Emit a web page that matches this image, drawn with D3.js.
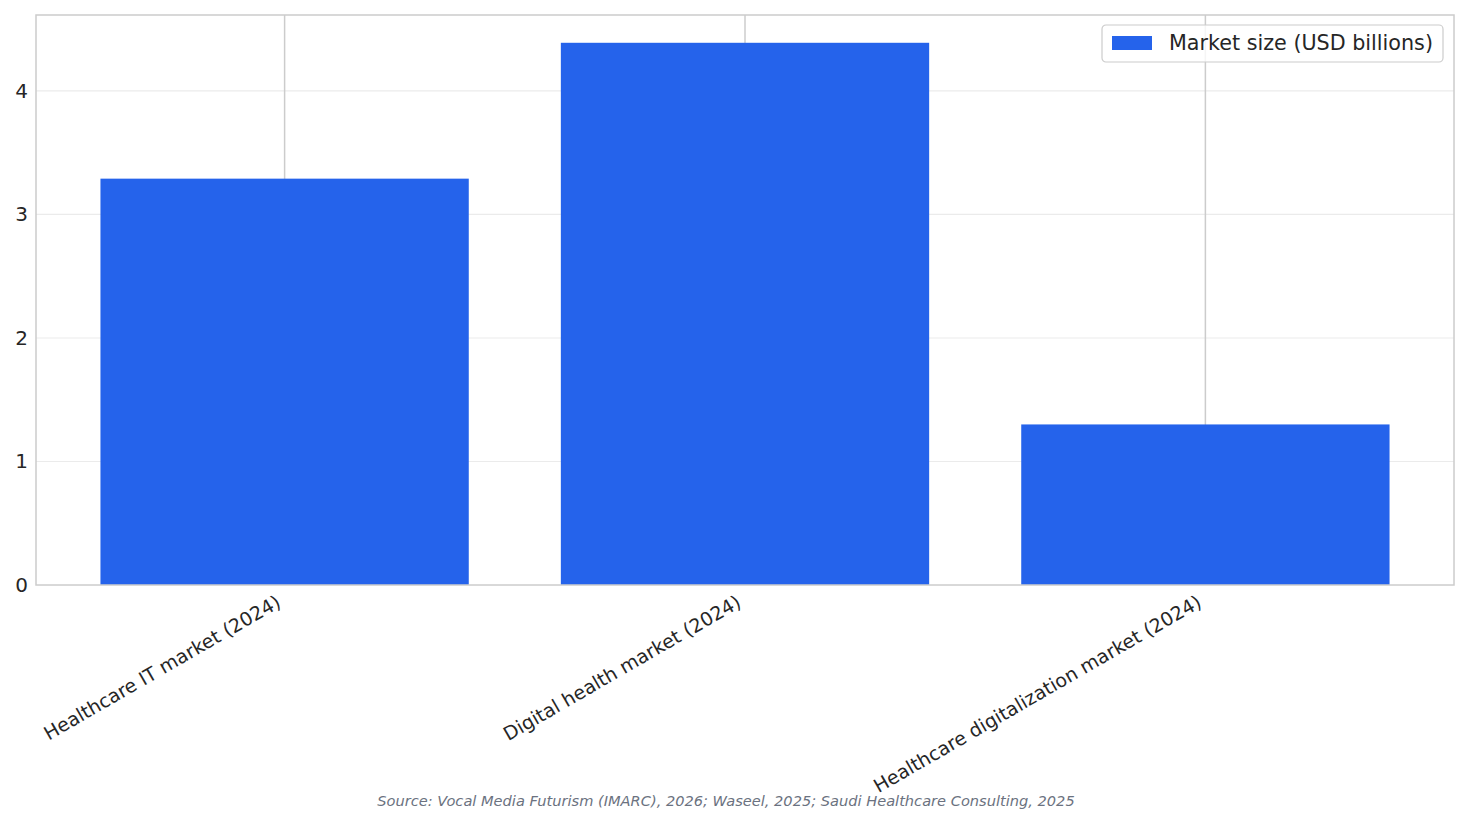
<!DOCTYPE html>
<html>
<head>
<meta charset="utf-8">
<script src="https://cdn.jsdelivr.net/npm/d3@7"></script>
<style>
  body { margin: 0; background: #fff; }
  svg { display: block; font-family: "DejaVu Sans", sans-serif; }
</style>
</head>
<body>
<div id="chart"></div>
<script>
const categories = ["Healthcare IT market (2024)", "Digital health market (2024)", "Healthcare digitalization market (2024)"];
const marketSize = [3.29, 4.39, 1.3];
const yTicks = [0, 1, 2, 3, 4];
const seriesName = "Market size (USD billions)";
const sourceNote = "Source: Vocal Media Futurism (IMARC), 2026; Waseel, 2025; Saudi Healthcare Consulting, 2025";

const W = 1468, H = 824;
const margin = { top: 15, right: 14, bottom: 239, left: 36 };
const width = W - margin.left - margin.right, height = H - margin.top - margin.bottom;

const svg = d3.select("#chart").append("svg").attr("width", W).attr("height", H);
const g = svg.append("g").attr("transform", `translate(${margin.left},${margin.top})`);

// matplotlib-like: bars 0.8 wide, 5% margins on x
const x = d3.scaleLinear().domain([-0.54, categories.length - 1 + 0.54]).range([0, width]);
const y = d3.scaleLinear().domain([0, 4.615]).range([height, 0]);
const barW = x(0.4) - x(-0.4);

// horizontal grid
g.selectAll(".hgrid").data(yTicks.filter(d => d > 0)).enter().append("line")
  .attr("x1", 0).attr("x2", width)
  .attr("y1", d => y(d)).attr("y2", d => y(d))
  .attr("stroke", "#ebebeb").attr("stroke-width", 1.2);

// vertical grid at category centres
g.selectAll(".vgrid").data(categories).enter().append("line")
  .attr("x1", (d, i) => x(i)).attr("x2", (d, i) => x(i))
  .attr("y1", 0).attr("y2", height)
  .attr("stroke", "#cccccc").attr("stroke-width", 1.5);

// bars
g.selectAll(".bar").data(marketSize).enter().append("rect")
  .attr("x", (d, i) => x(i) - barW / 2)
  .attr("width", barW)
  .attr("y", d => y(d))
  .attr("height", d => height - y(d))
  .attr("fill", "#2563eb");

// frame
g.append("rect").attr("width", width).attr("height", height)
  .attr("fill", "none").attr("stroke", "#cccccc").attr("stroke-width", 1.5);

// y axis labels
const yAxis = g.append("g").call(d3.axisLeft(y).tickValues(yTicks).tickFormat(d3.format("d")).tickSize(0).tickPadding(8));
yAxis.select(".domain").remove();
yAxis.selectAll("text").attr("fill", "#262626")
  .attr("font-family", "DejaVu Sans, sans-serif").style("font-size", "20px");

// x axis labels, rotated 30 degrees
const xAxis = g.append("g").attr("transform", `translate(0,${height})`)
  .call(d3.axisBottom(x).tickValues(d3.range(categories.length)).tickFormat(i => categories[i]).tickSize(0));
xAxis.select(".domain").remove();
xAxis.selectAll("text")
  .attr("font-family", "DejaVu Sans, sans-serif").style("font-size", "19px").attr("fill", "#262626")
  .attr("text-anchor", "end")
  .attr("dy", null).attr("y", 0)
  .attr("transform", "translate(-3,21) rotate(-30)");

// legend
const leg = svg.append("g").attr("transform", "translate(1102,25)");
leg.append("rect").attr("width", 341).attr("height", 37).attr("rx", 4)
  .attr("fill", "rgba(255,255,255,0.8)").attr("stroke", "#cccccc").attr("stroke-width", 1.2);
leg.append("rect").attr("x", 10).attr("y", 11).attr("width", 40).attr("height", 14).attr("fill", "#2563eb");
leg.append("text").attr("x", 67).attr("y", 25).style("font-size", "20.7px").attr("fill", "#262626").text(seriesName);

// source note
svg.append("text").attr("x", 726).attr("y", 806).attr("text-anchor", "middle")
  .style("font-size", "14.6px").style("font-style", "italic").attr("fill", "#6b7280").text(sourceNote);
</script>
</body>
</html>
